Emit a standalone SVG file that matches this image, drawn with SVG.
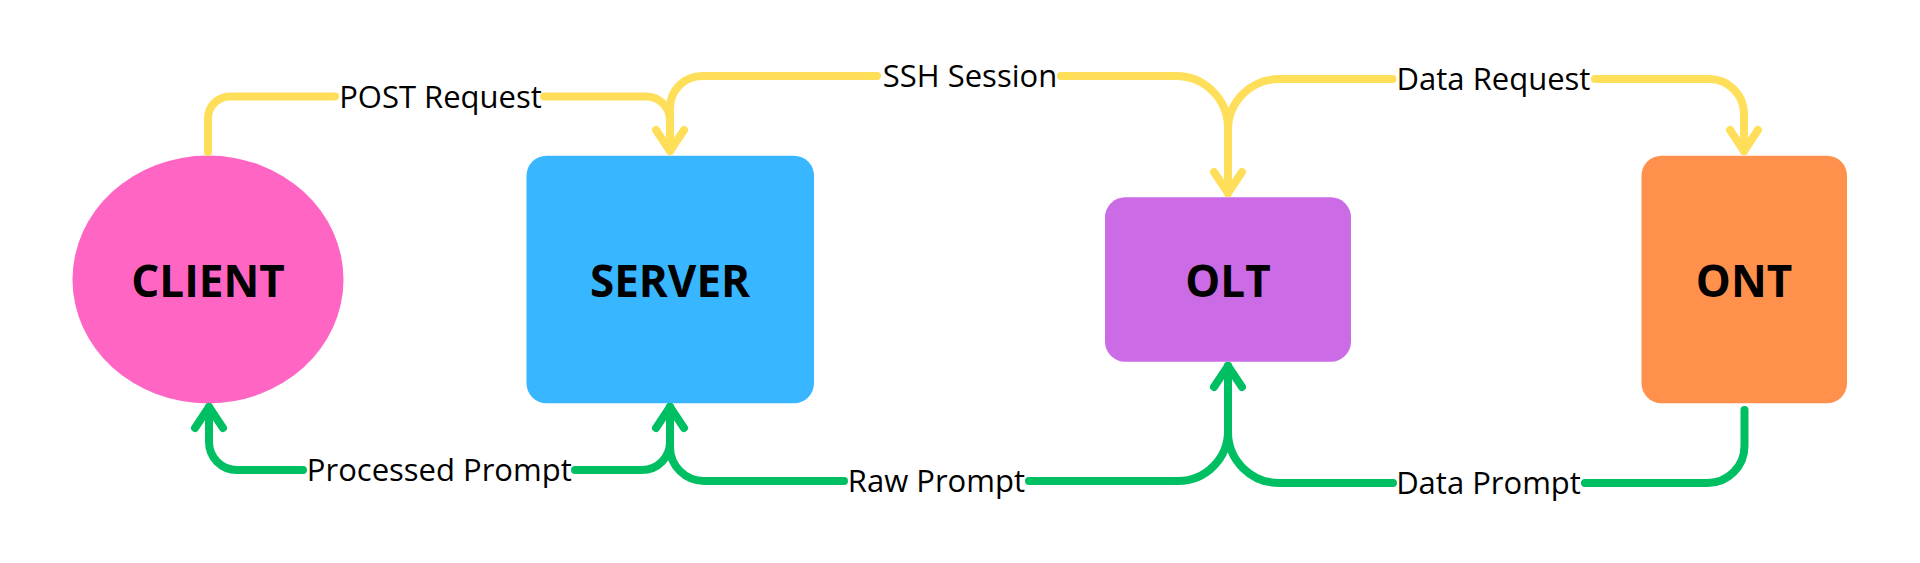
<svg xmlns="http://www.w3.org/2000/svg" width="1920" height="563" viewBox="0 0 1920 563">
  <style>
    .conn { fill: none; stroke-width: 8; stroke-linecap: round; stroke-linejoin: round; }
    .y { stroke: #FFDE59; }
    .g { stroke: #00BF63; }
    .lbl { font-family: "Open Sans", "Noto Sans", sans-serif; font-size: 31px; fill: #000000; text-anchor: middle; }
    .node { font-family: "Open Sans", "Noto Sans", sans-serif; font-size: 44px; font-weight: 700; fill: #000000; text-anchor: middle; }
  </style>
  <defs>
    <marker id="ay" markerUnits="userSpaceOnUse" orient="auto" overflow="visible" refX="0" refY="0" markerWidth="1" markerHeight="1">
      <path d="M-21,-14 L0,0 L-21,14" fill="none" stroke="#FFDE59" stroke-width="8" stroke-linecap="round" stroke-linejoin="round"/>
    </marker>
    <marker id="ag" markerUnits="userSpaceOnUse" orient="auto" overflow="visible" refX="0" refY="0" markerWidth="1" markerHeight="1">
      <path d="M-21,-14 L0,0 L-21,14" fill="none" stroke="#00BF63" stroke-width="8" stroke-linecap="round" stroke-linejoin="round"/>
    </marker>
  </defs>
  <rect width="1920" height="563" fill="#FFFFFF"/>

  <g id="client">
    <ellipse cx="208" cy="279.5" rx="135.5" ry="124" fill="#FF66C4"/>
    <text class="node" x="208" y="296.5">CLIENT</text>
  </g>
  <g id="server">
    <rect x="526.5" y="155.7" width="287.5" height="247.6" rx="20" fill="#38B6FF"/>
    <text class="node" x="670" y="296.5">SERVER</text>
  </g>
  <g id="olt">
    <rect x="1105" y="197.3" width="246" height="164.4" rx="20" fill="#CB6CE6"/>
    <text class="node" x="1228" y="296.5">OLT</text>
  </g>
  <g id="ont">
    <rect x="1641.5" y="155.7" width="205.5" height="247.6" rx="20" fill="#FF914D"/>
    <text class="node" x="1744" y="296.5">ONT</text>
  </g>

  <g id="connectors">
    <path class="conn y" marker-end="url(#ay)" d="M208,152 V118.5 A22,22 0 0 1 230,96.5 H335 M544,96.5 H646 A24,24 0 0 1 670,120.5 V151"/>
    <path class="conn y" marker-end="url(#ay)" d="M670,150 V108 A32,32 0 0 1 702,76 H877 M1061,76 H1176 A52,52 0 0 1 1228,128 V193"/>
    <path class="conn y" marker-end="url(#ay)" d="M1228,193 V130 A51,51 0 0 1 1279,79 H1392.5 M1595,79 H1709 A35,35 0 0 1 1744,114 V151"/>
    <path class="conn g" marker-end="url(#ag)" d="M670,407 V442 A28,28 0 0 1 642,470 H575 M303,470 H237 A28,28 0 0 1 209,442 V407"/>
    <path class="conn g" marker-end="url(#ag)" d="M1228,366 V431 A50,50 0 0 1 1178,481 H1029 M844,481 H704 A34,34 0 0 1 670,447 V407"/>
    <path class="conn g" marker-end="url(#ag)" d="M1744.5,410 V446 A37,37 0 0 1 1707.5,483 H1585 M1393,483 H1279 A51,51 0 0 1 1228,432 V366"/>
    <text class="lbl" x="440.5" y="107.5">POST Request</text>
    <text class="lbl" x="970" y="87">SSH Session</text>
    <text class="lbl" x="1493.5" y="89.5">Data Request</text>
    <text class="lbl" x="439.3" y="481">Processed Prompt</text>
    <text class="lbl" x="936.4" y="492">Raw Prompt</text>
    <text class="lbl" x="1488.5" y="494">Data Prompt</text>
  </g>
</svg>
